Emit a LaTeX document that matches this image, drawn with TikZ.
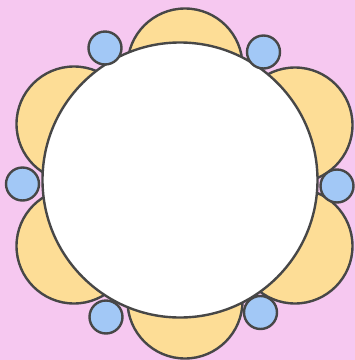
\documentclass[tikz,border=0pt]{standalone}
\begin{document}
\begin{tikzpicture}[x=1pt,y=-1pt,
  outl/.style={draw=black!72,line width=2.4pt},
  lobe/.style={outl,fill=lobefill},
  disc/.style={outl,fill=white},
  bead/.style={outl,fill=beadfill}]
\definecolor{lobefill}{RGB}{253,221,150}
\definecolor{beadfill}{RGB}{162,200,246}
\definecolor{bgpink}{RGB}{246,200,240}
\fill[bgpink] (0,0) rectangle (355,360);
\useasboundingbox (0,0) rectangle (355,360);
% lobes
\foreach \x/\y in {185/66, 295/125, 295/246, 185/301, 74/246, 74/124}
  \draw[lobe] (\x,\y) circle[radius=57.5];
% central disc
\draw[disc] (180,180) circle[radius=137.5];
% beads
\foreach \x/\y in {105/48, 263.5/52, 22.5/184, 337/186, 106/317, 260.5/312.5}
  \draw[bead] (\x,\y) circle[radius=16.5];
\end{tikzpicture}
\end{document}
